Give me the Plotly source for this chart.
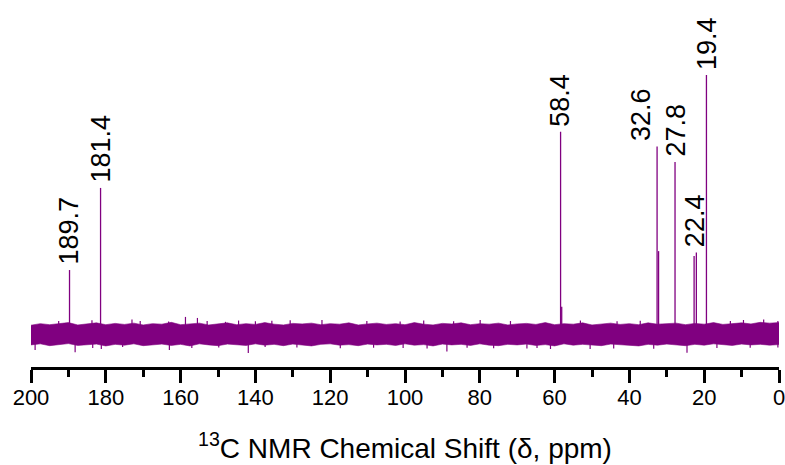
import plotly.graph_objects as go

PURPLE = "#800080"

# Peak positions (ppm) and intensities (relative, tallest = 100)
peak_ppm = [189.7, 181.4, 58.4, 58.1, 32.6, 32.2, 27.8, 22.7, 22.1, 19.4]
peak_int = [24.7, 56.4, 78.1, 10.5, 72.4, 32.0, 66.4, 30.1, 31.5, 100.0]

# Peak labels
label_text = ["189.7", "181.4", "58.4", "32.6", "27.8", "22.4", "19.4"]
label_ppm = [189.7, 181.4, 58.4, 32.6, 27.8, 22.4, 19.4]
label_int = [24.7, 56.4, 78.1, 72.4, 66.4, 31.5, 100.0]
label_dx = [0, 0, 0, -16, 0, 0, 0]

# Baseline noise envelope, every 2.5 ppm from 200 to 0
env_ppm = [200 - 2.5 * i for i in range(81)]
env_upper = [3.4, 4.0, 3.6, 3.9, 4.4, 3.5, 3.8, 4.3, 3.6, 4.1,
             3.7, 4.2, 3.5, 4.0, 3.8, 4.5, 3.6, 3.9, 4.2, 3.5,
             3.9, 4.3, 3.6, 4.0, 3.7, 4.4, 3.8, 3.5, 4.1, 3.9,
             4.2, 3.6, 4.0, 3.8, 4.3, 3.5, 3.9, 4.2, 3.7, 4.0,
             3.6, 4.4, 3.8, 3.5, 4.1, 3.9, 4.3, 3.6, 4.0, 3.8,
             4.2, 3.5, 3.9, 4.1, 3.7, 4.4, 3.6, 4.0, 3.8, 4.3,
             3.5, 3.9, 4.2, 3.7, 4.0, 3.6, 4.3, 3.8, 3.9, 4.2,
             3.6, 4.1, 3.8, 4.4, 3.7, 4.0, 4.3, 3.9, 4.5, 4.2, 4.4]
env_lower = [-4.2, -3.8, -4.5, -4.0, -3.7, -4.4, -4.1, -3.9, -4.6, -4.0,
             -4.3, -3.8, -4.5, -4.1, -3.9, -4.4, -4.0, -4.6, -3.8, -4.2,
             -4.5, -3.9, -4.1, -4.4, -3.8, -4.3, -4.0, -4.5, -3.9, -4.2,
             -4.6, -4.0, -3.8, -4.3, -4.1, -4.5, -3.9, -4.2, -4.0, -4.4,
             -3.8, -4.3, -4.1, -4.6, -3.9, -4.2, -4.0, -4.4, -3.8, -4.3,
             -4.5, -4.0, -4.2, -3.9, -4.4, -4.1, -4.6, -3.8, -4.3, -4.0,
             -4.2, -4.5, -3.9, -4.1, -4.4, -4.6, -4.0, -4.3, -3.9, -4.2,
             -4.5, -4.0, -4.3, -3.8, -4.1, -4.4, -3.9, -4.2, -4.0, -4.3, -4.1]

# Visible noise spikes (ppm, extent)
spike_ppm = [198.9, 192.6, 188.2, 183.7, 183.5, 181.2, 175.5, 173.0, 170.8,
             163.2, 163.0, 158.7, 157.0, 155.5, 152.9, 149.8, 148.0, 144.5,
             141.9, 140.0, 137.4, 135.6, 130.7, 128.9, 122.2, 117.3, 110.2,
             108.4, 101.3, 100.5, 95.0, 94.1, 88.8, 87.0, 83.4, 79.9, 76.3,
             71.8, 67.4, 64.7, 61.1, 53.1, 50.5, 44.2, 43.3, 37.1, 33.5,
             24.6, 16.6, 13.0, 9.5, 7.7, 4.1, 0.3, 0.3]
spike_val = [-6.2, 5.0, -7.0, 5.3, -5.4, -5.8, -5.0, 5.6, 5.0,
             4.8, -6.2, 6.6, -5.4, 6.2, 5.0, -5.2, 4.7, 5.2,
             -7.3, 4.9, -5.0, 5.1, 5.3, -5.2, 5.4, -5.5, 5.0,
             -5.3, 4.8, -5.4, 5.2, -5.6, -6.8, 4.9, -5.3, 5.4, -5.5,
             5.0, -5.6, -5.4, -5.8, 5.2, -5.8, -5.6, 4.9, 5.1, -5.7,
             -7.2, -5.4, 5.0, 5.4, -5.3, 5.6, -5.2, 5.0]

tick_vals = list(range(0, 201, 20))

fig = go.Figure()

# noise band
fig.add_trace(go.Scatter(x=env_ppm, y=env_lower, mode="lines",
                         line=dict(color=PURPLE, width=0.6),
                         showlegend=False, hoverinfo="skip"))
fig.add_trace(go.Scatter(x=env_ppm, y=env_upper, mode="lines",
                         line=dict(color=PURPLE, width=0.6),
                         fill="tonexty", fillcolor=PURPLE,
                         showlegend=False, hoverinfo="skip"))

# spikes
sx, sy = [], []
for p, v in zip(spike_ppm, spike_val):
    sx += [p, p, None]
    sy += [0, v, None]
fig.add_trace(go.Scatter(x=sx, y=sy, mode="lines",
                         line=dict(color=PURPLE, width=1.2),
                         showlegend=False, hoverinfo="skip"))

# peaks
px, py = [], []
for p, h in zip(peak_ppm, peak_int):
    px += [p, p, None]
    py += [0, h, None]
fig.add_trace(go.Scatter(x=px, y=py, mode="lines",
                         line=dict(color=PURPLE, width=1.3),
                         showlegend=False, hoverinfo="skip"))

for t, xp, yp, dx in zip(label_text, label_ppm, label_int, label_dx):
    fig.add_annotation(x=xp, y=yp, text=t, textangle=-90, showarrow=False,
                       xanchor="center", yanchor="bottom", yshift=3, xshift=dx,
                       font=dict(family="Liberation Sans, Arial", size=27, color="black"))

fig.update_layout(
    width=785, height=465,
    margin=dict(l=31, r=6, t=0, b=98, autoexpand=False),
    paper_bgcolor="white", plot_bgcolor="white",
    xaxis=dict(range=[200, 0], tickvals=tick_vals, ticks="outside", ticklen=13,
               tickwidth=2.5, tickcolor="black", showline=True, linewidth=2.5,
               linecolor="black", showgrid=False, zeroline=False,
               automargin=False, ticklabeloverflow="allow", ticklabelstandoff=-4,
               tickfont=dict(family="Liberation Sans, Arial", size=22, color="black"),
               minor=dict(dtick=10, ticks="outside", ticklen=7, tickwidth=2.5,
                          tickcolor="black", showgrid=False),
               title=dict(text="<sup>13</sup>C NMR Chemical Shift (δ, ppm)",
                          font=dict(family="Liberation Sans, Arial", size=28, color="black"),
                          standoff=30)),
    yaxis=dict(range=[-12.74, 128.96], visible=False, showgrid=False, zeroline=False),
)

fig.write_html("out.html", config={"displayModeBar": False},
               post_script="document.body.style.margin='0';document.body.style.overflow='hidden';")
